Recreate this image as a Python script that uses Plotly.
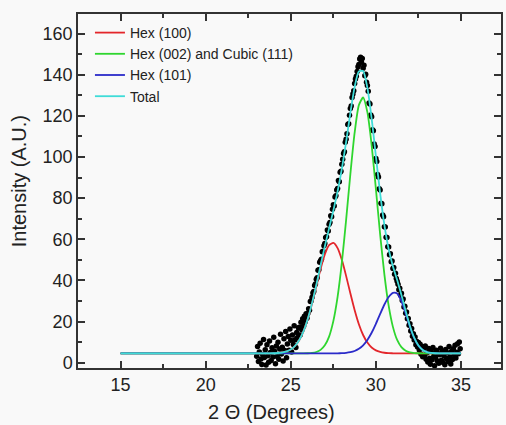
import plotly.graph_objects as go

# ---------------- data ----------------
# measured points (2 theta, intensity)
meas_x_start = 23.0
meas_step = 0.05
meas_y = [
    3.1, 7.8, 0.6, 5.2, 9.4, 1.8, -0.9, 4.0, 11.2, 2.5,
    6.3, -1.2, 8.7, 3.4, 0.2, 10.5, 4.9, 1.1, 7.2, 2.8,
    12.4, 5.5, -0.5, 8.1, 3.0, 9.9, 1.7, 6.6, 13.8, 4.2,
    7.5, 0.8, 11.6, 5.9, 15.2, 2.4, 9.1, 12.7, 6.0, 16.4,
    10.9, 5.2, 13.5, 8.8, 17.9, 11.1, 7.4, 14.6, 12.2, 16.8,
    17.2, 13.5, 19.6, 16.0, 21.3, 17.7, 22.5, 19.9, 23.8, 21.6,
    23.9, 26.2, 25.5, 29.7, 30.1, 31.8, 33.9, 34.6, 37.5, 38.2,
    40.6, 41.3, 44.9, 45.2, 48.8, 49.5, 50.3, 53.9, 54.1, 56.8,
    57.9, 60.8, 61.2, 64.5, 64.0, 67.3, 68.1, 71.4, 70.9, 74.6,
    76.8, 76.1, 80.5, 81.2, 83.9, 84.7, 88.5, 87.9, 92.6, 93.1,
    96.4, 98.9, 101.7, 102.5, 107.2, 108.6, 111.3, 115.8, 116.1, 120.3,
    123.5, 124.8, 128.9, 130.6, 132.2, 135.7, 137.9, 139.2, 141.6, 143.8,
    144.9, 147.6, 148.5, 146.2, 147.9, 143.1, 144.6, 139.5, 140.2, 136.3,
    134.8, 131.9, 126.2, 125.8, 120.4, 119.6, 113.2, 112.7, 106.3, 105.1,
    99.2, 97.8, 91.5, 90.3, 84.6, 83.9, 77.5, 77.2, 71.8, 70.9,
    66.1, 65.9, 61.0, 60.8, 56.3, 56.2, 52.4, 52.9, 49.1, 49.4,
    45.8, 46.2, 43.0, 43.5, 40.9, 39.6, 38.1, 35.4, 36.2, 32.8,
    33.7, 30.2, 30.9, 27.1, 27.4, 24.0, 24.6, 21.3, 21.5, 18.2,
    18.9, 15.4, 16.6, 12.8, 14.1, 11.0, 12.5, 8.7, 10.3, 7.6,
    9.8, 6.2, 8.9, 4.1, 7.7, 2.9, 6.8, 3.5, 8.1, 1.6,
    4.7, 0.3, 6.9, 2.2, -0.8, 5.5, 1.4, 7.4, 3.1, -1.5,
    2.6, 6.0, 0.9, 4.4, -0.3, 3.8, 7.0, 1.2, 5.1, 0.1,
    3.3, -1.0, 6.4, 2.0, 4.8, 0.5, 7.9, 2.7, -0.6, 5.6,
    1.5, 6.7, 3.9, 8.5, 2.3, 5.0, 9.2, 4.3, 10.1, 6.8,
]
meas_x = [round(meas_x_start + meas_step * i, 3) for i in range(len(meas_y))]

# fitted curves, read at these 2 theta positions
curve_x = [15.0, 23.0, 23.5, 24.0, 24.25, 24.5, 24.75, 25.0, 25.25, 25.5, 25.75,
           26.0, 26.25, 26.5, 26.75, 27.0, 27.25, 27.5, 27.75, 28.0, 28.25,
           28.5, 28.75, 29.0, 29.25, 29.5, 29.75, 30.0, 30.25, 30.5, 30.75,
           31.0, 31.25, 31.5, 31.75, 32.0, 32.25, 32.5, 32.75, 33.0, 33.25,
           33.5, 33.75, 34.0, 35.0]
hex100 = [4.5, 4.5, 4.5, 4.57, 4.69, 4.93, 5.45, 6.43, 8.18, 11.04, 15.35,
          21.3, 28.7, 37.1, 45.5, 52.6, 57.1, 58.2, 55.7, 50.0, 42.2,
          33.7, 25.6, 18.7, 13.44, 9.75, 7.37, 5.97, 5.20, 4.81, 4.63,
          4.55, 4.5, 4.5, 4.5, 4.5, 4.5, 4.5, 4.5, 4.5, 4.5,
          4.5, 4.5, 4.5, 4.5]
hex002_cub111 = [4.5, 4.5, 4.5, 4.5, 4.5, 4.5, 4.5, 4.5, 4.5, 4.5, 4.5,
                 4.58, 4.75, 5.18, 6.21, 8.41, 12.68, 20.2, 32.0, 48.6, 69.3,
                 91.6, 111.7, 125.2, 128.9, 121.8, 105.8, 84.5, 62.4, 42.8, 27.7,
                 17.4, 11.02, 7.53, 5.79, 5.00, 4.68, 4.56, 4.5, 4.5, 4.5,
                 4.5, 4.5, 4.5, 4.5]
hex101 = [4.5, 4.5, 4.5, 4.5, 4.5, 4.5, 4.5, 4.5, 4.5, 4.5, 4.5,
          4.5, 4.5, 4.5, 4.5, 4.5, 4.5, 4.52, 4.54, 4.61, 4.75,
          5.06, 5.66, 6.71, 8.43, 11.02, 14.54, 18.88, 23.67, 28.28, 31.94,
          33.95, 33.66, 29.91, 23.83, 17.35, 11.97, 8.29, 6.18, 5.15, 4.72,
          4.57, 4.5, 4.5, 4.5]
total = [4.5, 4.5, 4.5, 4.57, 4.69, 4.93, 5.45, 6.43, 8.18, 11.04, 15.35,
         21.38, 28.95, 37.78, 47.21, 56.51, 65.28, 73.92, 83.24, 94.21, 107.25,
         121.36, 133.96, 141.61, 141.77, 133.57, 118.71, 100.35, 82.27, 66.89, 55.27,
         46.9, 40.18, 32.94, 25.12, 17.85, 12.15, 8.35, 6.18, 5.15, 4.72,
         4.57, 4.5, 4.5, 4.5]

x_ticks = [15, 20, 25, 30, 35]
y_ticks = [0, 20, 40, 60, 80, 100, 120, 140, 160]

series = [
    ("Hex (100)", hex100, "#e3262b"),
    ("Hex (002) and Cubic (111)", hex002_cub111, "#2fd62f"),
    ("Hex (101)", hex101, "#2b2bc9"),
    ("Total", total, "#3fdcd8"),
]

fig = go.Figure()
fig.add_trace(go.Scatter(x=meas_x, y=meas_y, mode="markers", showlegend=False,
                         marker=dict(color="black", size=5.5, line=dict(width=0))))
for name, ys, col in series:
    fig.add_trace(go.Scatter(x=curve_x, y=ys, mode="lines", name=name,
                             line=dict(color=col, width=1.8, shape="spline", smoothing=0.6)))

W, H = 506, 425
L, R, T, B = 78, 3, 14, 57
pw, ph = W - L - R, H - T - B

def px(xp):
    return (xp - L) / pw

def py(yp):
    return (H - B - yp) / ph

axis_common = dict(
    showline=True, linecolor="#333333", linewidth=1.5, mirror="ticks",
    ticks="inside", ticklen=7, tickwidth=1.5, tickcolor="#333333",
    showgrid=False, zeroline=False,
    tickfont=dict(family="Liberation Sans, Arial", size=18, color="#222222"),
)

fig.update_layout(
    width=W, height=H,
    margin=dict(l=L, r=R, t=T, b=B),
    paper_bgcolor="#f9f9f9", plot_bgcolor="#f9f9f9",
    xaxis=dict(range=[12.5, 37.35], tickvals=x_ticks,
               minor=dict(dtick=2.5, tick0=15, ticks="inside", ticklen=4,
                          tickwidth=1.5, tickcolor="#333333"),
               **axis_common),
    yaxis=dict(range=[-2.6, 169.5], tickvals=y_ticks,
               minor=dict(dtick=10, tick0=0, ticks="inside", ticklen=4,
                          tickwidth=1.5, tickcolor="#333333"),
               **axis_common),
    legend=dict(x=px(90), y=py(17), xanchor="left", yanchor="top",
                bgcolor="rgba(0,0,0,0)",
                font=dict(family="Liberation Sans, Arial", size=14, color="#222222")),
    showlegend=True,
    annotations=[
        dict(text="2 Θ (Degrees)", x=px(272), y=py(412), xref="paper", yref="paper",
             showarrow=False, xanchor="center", yanchor="middle",
             font=dict(family="Liberation Sans, Arial", size=20, color="#222222")),
        dict(text="Intensity (A.U.)", x=px(19), y=py(181), xref="paper", yref="paper",
             showarrow=False, xanchor="center", yanchor="middle", textangle=-90,
             font=dict(family="Liberation Sans, Arial", size=20, color="#222222")),
    ],
)

fig.write_html("out.html")
